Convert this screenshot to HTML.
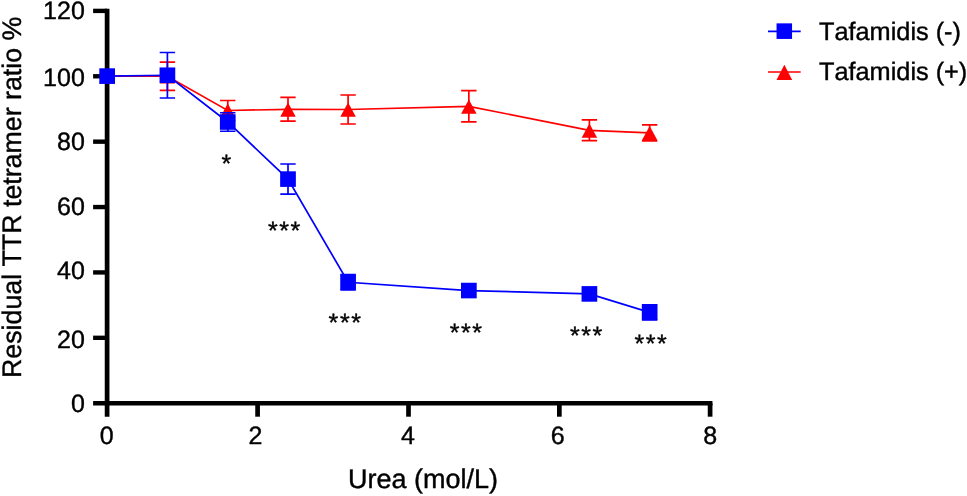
<!DOCTYPE html>
<html><head><meta charset="utf-8"><title>Chart</title>
<style>
html,body{margin:0;padding:0;background:#fff;}
svg{display:block;will-change:transform;}
text{font-family:"Liberation Sans",sans-serif;fill:#000;stroke:#000;stroke-width:0.4px;font-kerning:none;font-variant-ligatures:none;text-rendering:geometricPrecision;}
</style></head><body>
<svg width="967" height="496" viewBox="0 0 967 496">
<rect width="967" height="496" fill="#fff"/>
<path d="M107.10 8.65V416.7" stroke="#000" stroke-width="4.7" fill="none"/>
<path d="M93.1 403.20H712.45" stroke="#000" stroke-width="4.4" fill="none"/>
<path d="M93.1 337.82H107.10" stroke="#000" stroke-width="4.4"/>
<path d="M93.1 272.43H107.10" stroke="#000" stroke-width="4.4"/>
<path d="M93.1 207.05H107.10" stroke="#000" stroke-width="4.4"/>
<path d="M93.1 141.67H107.10" stroke="#000" stroke-width="4.4"/>
<path d="M93.1 76.28H107.10" stroke="#000" stroke-width="4.4"/>
<path d="M93.1 10.90H107.10" stroke="#000" stroke-width="4.4"/>
<path d="M257.60 403.20V416.7" stroke="#000" stroke-width="4.7"/>
<path d="M408.50 403.20V416.7" stroke="#000" stroke-width="4.7"/>
<path d="M559.35 403.20V416.7" stroke="#000" stroke-width="4.7"/>
<path d="M710.10 403.20V416.7" stroke="#000" stroke-width="4.7"/>
<polyline points="107.15,76.10 167.40,76.25 227.75,110.50 288.00,109.30 348.10,109.50 468.85,106.30 589.40,130.30 649.65,132.80" fill="none" stroke="#ff0000" stroke-width="1.7"/>
<path d="M167.40 62.05V90.45M159.70 62.05H175.10M159.70 90.45H175.10" stroke="#ff0000" stroke-width="1.7" fill="none"/>
<path d="M227.75 100.50V120.50M220.05 100.50H235.45M220.05 120.50H235.45" stroke="#ff0000" stroke-width="1.7" fill="none"/>
<path d="M288.00 97.40V121.20M280.30 97.40H295.70M280.30 121.20H295.70" stroke="#ff0000" stroke-width="1.7" fill="none"/>
<path d="M348.10 95.00V124.00M340.40 95.00H355.80M340.40 124.00H355.80" stroke="#ff0000" stroke-width="1.7" fill="none"/>
<path d="M468.85 90.70V121.90M461.15 90.70H476.55M461.15 121.90H476.55" stroke="#ff0000" stroke-width="1.7" fill="none"/>
<path d="M589.40 119.90V140.70M581.70 119.90H597.10M581.70 140.70H597.10" stroke="#ff0000" stroke-width="1.7" fill="none"/>
<path d="M649.65 124.80V140.80M641.95 124.80H657.35M641.95 140.80H657.35" stroke="#ff0000" stroke-width="1.7" fill="none"/>
<path d="M107.15 69.20L114.90 83.45H99.40Z" fill="#ff0000"/>
<path d="M167.40 69.35L175.15 83.60H159.65Z" fill="#ff0000"/>
<path d="M227.75 103.60L235.50 117.85H220.00Z" fill="#ff0000"/>
<path d="M288.00 102.40L295.75 116.65H280.25Z" fill="#ff0000"/>
<path d="M348.10 102.60L355.85 116.85H340.35Z" fill="#ff0000"/>
<path d="M468.85 99.40L476.60 113.65H461.10Z" fill="#ff0000"/>
<path d="M589.40 123.40L597.15 137.65H581.65Z" fill="#ff0000"/>
<path d="M649.65 125.90L657.40 140.15H641.90Z" fill="#ff0000"/>
<polyline points="107.15,76.10 167.40,75.25 227.75,122.00 288.00,179.10 348.10,282.25 468.85,290.55 589.40,293.90 649.65,312.35" fill="none" stroke="#0000ff" stroke-width="1.7"/>
<path d="M167.40 52.50V98.00M159.70 52.50H175.10M159.70 98.00H175.10" stroke="#0000ff" stroke-width="1.7" fill="none"/>
<path d="M227.75 112.75V131.25M220.05 112.75H235.45M220.05 131.25H235.45" stroke="#0000ff" stroke-width="1.7" fill="none"/>
<path d="M288.00 164.00V194.20M280.30 164.00H295.70M280.30 194.20H295.70" stroke="#0000ff" stroke-width="1.7" fill="none"/>
<path d="M348.10 274.70V289.80M340.40 274.70H355.80M340.40 289.80H355.80" stroke="#0000ff" stroke-width="1.7" fill="none"/>
<path d="M649.65 304.75V319.95M641.95 304.75H657.35M641.95 319.95H657.35" stroke="#0000ff" stroke-width="1.7" fill="none"/>
<rect x="99.30" y="68.30" width="15.7" height="15.6" fill="#0000ff"/>
<rect x="159.55" y="67.45" width="15.7" height="15.6" fill="#0000ff"/>
<rect x="219.90" y="114.20" width="15.7" height="15.6" fill="#0000ff"/>
<rect x="280.15" y="171.30" width="15.7" height="15.6" fill="#0000ff"/>
<rect x="340.25" y="274.45" width="15.7" height="15.6" fill="#0000ff"/>
<rect x="461.00" y="282.75" width="15.7" height="15.6" fill="#0000ff"/>
<rect x="581.55" y="286.10" width="15.7" height="15.6" fill="#0000ff"/>
<rect x="641.80" y="304.55" width="15.7" height="15.6" fill="#0000ff"/>
<text x="84.8" y="19" text-anchor="end" font-size="25">120</text>
<text x="84.8" y="86" text-anchor="end" font-size="25">100</text>
<text x="84.8" y="150" text-anchor="end" font-size="25">80</text>
<text x="84.8" y="215" text-anchor="end" font-size="25">60</text>
<text x="84.8" y="279" text-anchor="end" font-size="25">40</text>
<text x="84.8" y="348" text-anchor="end" font-size="25">20</text>
<text x="84.8" y="412" text-anchor="end" font-size="25">0</text>
<text x="106.70" y="444" text-anchor="middle" font-size="25">0</text>
<text x="255.50" y="444" text-anchor="middle" font-size="25">2</text>
<text x="408.00" y="444" text-anchor="middle" font-size="25">4</text>
<text x="557.70" y="444" text-anchor="middle" font-size="25">6</text>
<text x="710.25" y="444" text-anchor="middle" font-size="25">8</text>
<text x="348" y="488" font-size="27">Urea (mol/L)</text>
<text transform="translate(21.3 378) rotate(-90)" font-size="26.75">Residual TTR tetramer ratio %</text>
<text x="221.57" y="172" font-size="25.0" letter-spacing="1.57" stroke="#000" stroke-width="0.45">*</text>
<text x="267.96" y="239" font-size="25.0" letter-spacing="1.57" stroke="#000" stroke-width="0.45">***</text>
<text x="328.58" y="331" font-size="25.0" letter-spacing="1.57" stroke="#000" stroke-width="0.45">***</text>
<text x="449.66" y="341" font-size="25.0" letter-spacing="1.57" stroke="#000" stroke-width="0.45">***</text>
<text x="570.02" y="344" font-size="25.0" letter-spacing="1.57" stroke="#000" stroke-width="0.45">***</text>
<text x="634.38" y="352" font-size="25.0" letter-spacing="1.57" stroke="#000" stroke-width="0.45">***</text>
<path d="M768 31.4H800.7" stroke="#0000ff" stroke-width="1.7"/>
<rect x="776.55" y="23.35" width="15.5" height="15.6" fill="#0000ff"/>
<path d="M768 72.0H800.7" stroke="#ff0000" stroke-width="1.7"/>
<path d="M784.35 64.7L792.2 80.1H776.5Z" fill="#ff0000"/>
<text x="819" y="39.8" font-size="25.3">Tafamidis (-)</text>
<text x="819" y="80" font-size="25.3">Tafamidis (+)</text>
</svg>
</body></html>
